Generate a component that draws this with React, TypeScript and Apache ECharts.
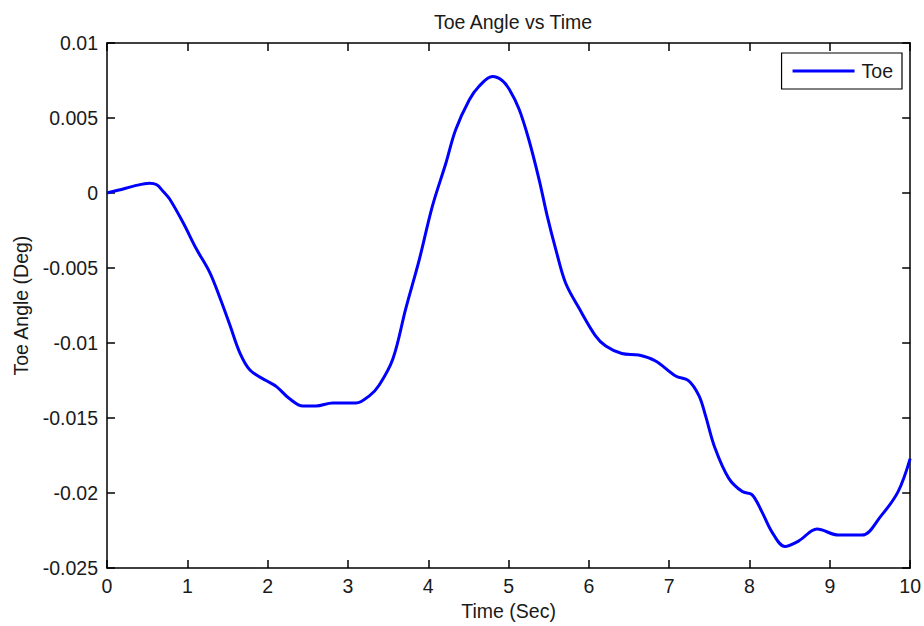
import React, { useEffect, useRef } from "react";
import * as echarts from "echarts";

// Toe angle (deg) sampled against time (sec)
const timeSec: number[] = [
  0, 0.15, 0.33, 0.53, 0.62, 0.7, 0.78, 0.95, 1.11, 1.28, 1.4, 1.53, 1.65, 1.78,
  1.98, 2.11, 2.27, 2.44, 2.6, 2.81, 3.1, 3.27, 3.39, 3.56, 3.72, 3.89, 4.05,
  4.22, 4.34, 4.51, 4.63, 4.8, 4.92, 5.01, 5.13, 5.25, 5.38, 5.48, 5.59, 5.71,
  5.88, 6.08, 6.21, 6.41, 6.62, 6.83, 7.08, 7.24, 7.37, 7.45, 7.57, 7.74, 7.91,
  8.03, 8.15, 8.28, 8.44, 8.61, 8.84, 9.11, 9.4, 9.64, 9.85, 10,
];
const toeAngle: number[] = [
  0.0, 0.0002, 0.00046, 0.00066, 0.00055, 0.0001, -0.0004, -0.002, -0.0037,
  -0.0053, -0.0069, -0.0088, -0.0106, -0.0118, -0.0125, -0.0129, -0.0137,
  -0.0142, -0.0142, -0.014, -0.014, -0.0135, -0.0128, -0.01105, -0.0077,
  -0.0044, -0.0009, 0.002, 0.0042, 0.0062, 0.0071, 0.00776, 0.0075, 0.0069,
  0.0056, 0.0036, 0.0009, -0.0015, -0.0038, -0.006, -0.0077, -0.0095, -0.0102,
  -0.0107, -0.0108, -0.0112, -0.0122, -0.0125, -0.0135, -0.0148, -0.017, -0.019,
  -0.0199, -0.0201, -0.0212, -0.0226, -0.02356, -0.0232, -0.0224, -0.0228,
  -0.0228, -0.0215, -0.0199, -0.0177,
];

const seriesName = "Toe";
const titleText = "Toe Angle vs Time";
const xAxisName = "Time (Sec)";
const yAxisName = "Toe Angle (Deg)";

const FONT = "Liberation Sans, Arial, Helvetica, sans-serif";
const TEXT = "#1a1a1a";
const FS = 19.5;

export default function App() {
  const ref = useRef<HTMLDivElement>(null);

  useEffect(() => {
    if (!ref.current) return;
    const chart = echarts.init(ref.current, undefined, { renderer: "svg" });

    const tickStyle = {
      show: true,
      inside: true,
      length: 8,
      lineStyle: { color: "#000", width: 1.5 },
    };
    const lineStyle = { color: "#000", width: 1.5 };

    const xBase = {
      type: "value" as const,
      min: 0,
      max: 10,
      interval: 1,
      splitLine: { show: false },
      axisLine: { show: true, onZero: false, lineStyle },
      axisTick: tickStyle,
    };
    const yBase = {
      type: "value" as const,
      min: -0.025,
      max: 0.01,
      interval: 0.005,
      splitLine: { show: false },
      axisLine: { show: true, onZero: false, lineStyle },
      axisTick: tickStyle,
    };

    chart.setOption({
      animation: false,
      backgroundColor: "#fff",
      textStyle: { fontFamily: FONT, color: TEXT },
      title: {
        text: titleText,
        left: 508,
        top: 7,
        textAlign: "center",
        textStyle: {
          fontFamily: FONT,
          fontSize: FS,
          fontWeight: "normal",
          color: TEXT,
        },
      },
      grid: { left: 107, right: 12, top: 43, bottom: 56, containLabel: false },
      legend: {
        right: 22,
        top: 53,
        orient: "vertical",
        backgroundColor: "#fff",
        borderColor: "#000",
        borderWidth: 1.2,
        borderRadius: 0,
        padding: [8, 9, 8, 11],
        icon: "rect",
        itemWidth: 62,
        itemHeight: 3,
        textStyle: {
          fontFamily: FONT,
          fontSize: FS,
          color: TEXT,
          padding: [0, 0, 0, 2],
        },
        data: [seriesName],
      },
      xAxis: [
        {
          ...xBase,
          position: "bottom",
          name: xAxisName,
          nameLocation: "middle",
          nameGap: 30,
          nameTextStyle: { fontFamily: FONT, fontSize: FS, color: TEXT },
          axisLabel: {
            margin: 8,
            fontFamily: FONT,
            fontSize: FS,
            color: TEXT,
          },
        },
        {
          ...xBase,
          position: "top",
          axisLabel: { show: false },
        },
      ],
      yAxis: [
        {
          ...yBase,
          position: "left",
          name: yAxisName,
          nameLocation: "middle",
          nameGap: 76,
          nameRotate: 90,
          nameTextStyle: { fontFamily: FONT, fontSize: FS, color: TEXT },
          axisLabel: {
            margin: 9,
            fontFamily: FONT,
            fontSize: FS,
            color: TEXT,
            formatter: (v: number) => String(parseFloat(v.toFixed(4))),
          },
        },
        {
          ...yBase,
          position: "right",
          axisLabel: { show: false },
        },
      ],
      series: [
        {
          name: seriesName,
          type: "line",
          xAxisIndex: 0,
          yAxisIndex: 0,
          data: timeSec.map((t, i) => [t, toeAngle[i]]),
          smooth: 0.35,
          symbol: "none",
          showSymbol: false,
          lineStyle: { color: "#0000ff", width: 3 },
          itemStyle: { color: "#0000ff" },
        },
      ],
    });

    return () => chart.dispose();
  }, []);

  return (
    <div
      ref={ref}
      style={{ position: "fixed", left: 0, top: 0, width: 924, height: 626 }}
    />
  );
}
